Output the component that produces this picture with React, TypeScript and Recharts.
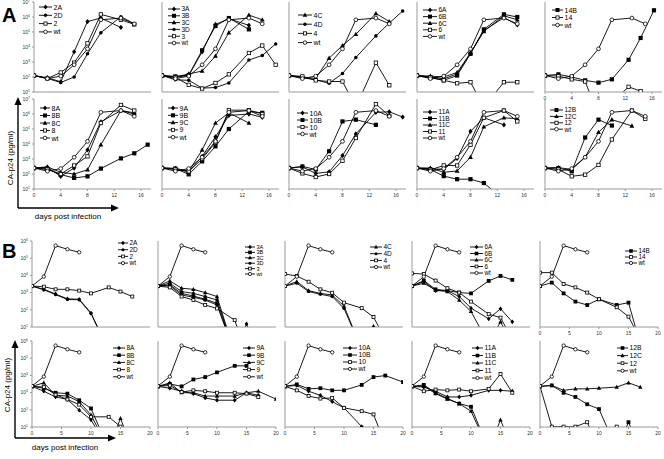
import React from 'react';
import { LineChart, Line, XAxis, YAxis } from 'recharts';

type Mk = 'diamond' | 'square' | 'triangle' | 'circle' | 'osquare' | 'ocircle';
interface Series { name: string; mk: Mk; days: number[]; vals: number[] }

// ---- sampling days
const dA = [0, 2, 4, 6, 8, 10, 13, 15];
const dA13 = [0, 2, 4, 6, 8, 10, 13];
const dA17 = [0, 2, 4, 6, 8, 10, 13, 15, 17];
const dA10 = [0, 2, 4, 6, 8, 10];
const d14B = [0, 2, 4, 6, 8, 10, 12.5, 14.3, 16.3];
const d14 = [0, 2, 4, 6, 8, 12.5, 14.3];
const dB = [0, 2, 4, 6, 8, 10, 13, 15, 17];
const dB13 = [0, 2, 4, 6, 8, 10, 13];
const dB15 = [0, 2, 4, 6, 8, 10, 13, 15];
const dB20 = [0, 2, 4, 6, 8, 10, 13, 15, 17, 20];
const dBwt = [0, 2, 4, 6, 8];

// ---- A, top row: CA-p24 (pg/ml)
const wtA1 = [125, 78, 115, 650, 7500, 6.5e5, 8.5e5, 3.5e5];
const a2A = [125, 90, 48, 4800, 5e5, 8.5e5, 2e5];
const a2D = [125, 80, 43, 100, 3500, 9e4, 1.05e6, 3.5e5];
const a2 = [125, 80, 200, 900, 1.75e4, 1.5e6, 6.5e5, 3.2e5];
const a3A = [125, 100, 125, 4800, 3.2e5, 7.5e5, 2.8e5];
const a3B = [125, 110, 135, 6000, 2.5e5, 8.5e5, 1.5e5];
const a3C = [125, 100, 160, 250, 2500, 9e4, 1.35e6, 6.5e5];
const a3D = [125, 65, 60, 18, 20, 40, 1350, 2750, 1.6e4];
const a3 = [125, 95, 30, 17, 40, 150, 4000, 1.25e4, 650];
const a4C = [125, 100, 80, 1800, 1.25e4, 7e4, 1.7e6, 5e5];
const a4D = [125, 90, 65, 38, 170, 2000, 5.5e4, 3.9e5, 2.5e6];
const a4 = [125, 110, 60, 50, 50, 1, 900, 28];
const a6A = [125, 100, 75, 160, 3800, 1.25e5, 9e5, 3e5];
const a6B = [125, 90, 60, 125, 3500, 1.5e5, 1.5e6, 1e6];
const a6C = [125, 115, 100, 200, 4000, 1.1e5, 1.2e6, 6.5e5];
const a6 = [125, 95, 60, 38, 45, 1, 45, 45];
const a14B = [125, 150, 100, 60, 42, 70, 1400, 4e4, 2.8e6];
const a14 = [125, 115, 70, 50, 0.3, 22, 11.5];

// ---- A, bottom row
const wtA2 = [250, 155, 230, 1300, 1.5e4, 1.3e6, 1.7e6, 7e5];
const a8A = [250, 280, 70, 250, 4000, 3e5, 1.7e6, 1e6];
const a8B = [250, 220, 90, 55, 70, 230, 1100, 2400, 9000];
const a8C = [250, 300, 130, 100, 190, 8900, 1.7e6, 1.2e6];
const a8 = [250, 200, 100, 370, 1500, 2.5e5, 4e6, 1.7e6];
const a9A = [250, 220, 140, 1500, 3e4, 8e5, 1e6, 6e5];
const a9B = [250, 230, 95, 700, 7000, 1e5, 1.5e6, 1.2e6];
const a9C = [250, 240, 150, 4000, 2.5e5, 1.2e6, 2.5e5];
const a9 = [250, 200, 150, 1000, 1.3e4, 1.8e6, 1.8e6, 1e6];
const a10A = [250, 300, 110, 140, 1700, 4.7e4, 1.3e6, 1.4e6, 6.3e5];
const a10B = [250, 320, 200, 3300, 3.2e5, 4.2e5, 1.9e5];
const a10 = [250, 110, 63, 100, 760, 2.5e4, 4.6e6, 7.4e5];
const a11A = [250, 230, 200, 1100, 7e4, 5.6e5, 1.9e5];
const a11B = [250, 200, 72, 45, 45, 25, 2];
const a11C = [250, 250, 130, 160, 1300, 1.4e5, 5.6e5, 4.8e5];
const a11 = [250, 190, 370, 370, 9000, 5.6e5, 1.7e6, 3.2e5];
const a12B = [250, 250, 150, 2.7e4, 4.2e5, 1.7e5];
const a12C = [250, 270, 200, 1300, 6e4, 4.2e5, 1.6e5];
const a12 = [250, 200, 70, 90, 400, 2e4, 1.7e6, 4.8e5];

// ---- B: CA-p24 (pg/ml)
const wtB = [2400, 8500, 5.4e5, 3.3e5, 2.2e5];
const b2A = [2400, 1550, 830, 430, 410, 65, 0.4];
const b2D = [2400, 1450, 760, 400, 380, 60, 0.4];
const b2 = [2400, 2200, 1550, 1550, 1300, 900, 2000, 1150, 590];
const b3A = [2400, 3500, 1150, 900, 590, 370, 0.3, 15, 0.3];
const b3B = [2400, 2800, 900, 630, 410, 240, 0.3];
const b3C = [2400, 4800, 1800, 1550, 1000, 590, 0.3];
const b3D = [2400, 2500, 720, 540, 370, 190, 0.3];
const b3 = [2400, 2000, 590, 370, 190, 120, 25, 0.3];
const b4C = [2400, 4400, 1300, 900, 720, 165, 0.5, 11];
const b4D = [2400, 3500, 1150, 800, 590, 120, 0.5];
const b4 = [1.2e4, 9300, 4300, 1550, 980, 260, 125, 38, 2];
const b6A = [2400, 4400, 1300, 1300, 590, 125, 30, 115, 20];
const b6B = [2400, 5000, 1550, 1300, 1000, 900, 4800, 9300, 5500];
const b6C = [2400, 3500, 1400, 1150, 370, 80, 1, 20, 1];
const b6 = [1.3e4, 1.2e4, 5000, 1800, 1000, 300, 56, 35, 2];
const b14B = [2400, 3800, 900, 300, 190, 410, 190, 260, 1];
const b14 = [1.45e4, 1.45e4, 3200, 2000, 1000, 410, 140, 40, 2];
const b8A = [2300, 1200, 560, 400, 95, 26, 0.5];
const b8B = [2300, 1800, 980, 870, 360, 120, 0.5];
const b8C = [2300, 3700, 700, 630, 300, 50, 0.5, 32, 0.5];
const b8 = [2300, 2100, 760, 400, 200, 39, 39, 10.5];
const b9A = [2300, 1800, 1200, 870, 490, 360, 360, 980, 690];
const b9B = [2300, 3200, 2300, 5800, 8000, 1.5e4, 3.6e4, 3.6e4];
const b9C = [2300, 3700, 980, 980, 630, 630, 630, 980, 1200, 420];
const b9 = [2300, 2600, 1070, 1350, 1200, 980, 980, 870, 560];
const b10A = [2300, 2600, 1200, 690, 300, 130, 10.5];
const b10B = [2300, 3000, 1650, 1800, 1350, 1350, 2800, 8000, 9800, 4100];
const b10 = [2300, 1350, 630, 450, 490, 130, 83, 54, 1];
const b11A = [2300, 2100, 1200, 560, 560, 690, 1350, 1350, 1200];
const b11B = [2300, 2800, 980, 450, 230, 150, 0.5];
const b11C = [2300, 2400, 870, 420, 230, 83, 0.5, 26, 0.5];
const b11 = [2300, 1200, 1500, 1350, 1500, 1200, 1650, 1.2e4, 980];
const b12B = [2300, 2600, 980, 560, 210, 110, 0.5, 19, 0.5];
const b12C = [2300, 2600, 1350, 1650, 1650, 1800, 2100, 3700, 2100];
const b12 = [2300, 10.5, 10.5, 10.5, 19, 0.5, 10.5];

const A_TICKS_X = [0, 4, 8, 12, 16];
const B_TICKS_X = [0, 5, 10, 15, 20];
const A_TICKS_Y = [10, 1e2, 1e3, 1e4, 1e5, 1e6, 1e7];
const B_TICKS_Y = [10, 1e2, 1e3, 1e4, 1e5, 1e6];

const s = (name: string, mk: Mk, days: number[], vals: number[]): Series => ({ name, mk, days, vals });

interface PanelDef {
  sec: 'A' | 'B';
  row: number;
  col: number;
  series: Series[];
  lg: { x: number; y: number; gap: number; len: number; fs: number };
}

const panels: PanelDef[] = [
  { sec: 'A', row: 0, col: 0, lg: { x: 39, y: 7, gap: 8.3, len: 13, fs: 7 },
    series: [s('2A', 'diamond', dA13, a2A), s('2D', 'circle', dA, a2D), s('2', 'osquare', dA, a2), s('wt', 'ocircle', dA, wtA1)] },
  { sec: 'A', row: 0, col: 1, lg: { x: 168, y: 9, gap: 6.8, len: 12, fs: 6.5 },
    series: [s('3A', 'diamond', dA13, a3A), s('3B', 'square', dA13, a3B), s('3C', 'triangle', dA, a3C),
      s('3D', 'circle', dA17, a3D), s('3', 'osquare', dA17, a3), s('wt', 'ocircle', dA, wtA1)] },
  { sec: 'A', row: 0, col: 2, lg: { x: 298, y: 15, gap: 9.2, len: 14, fs: 7 },
    series: [s('4C', 'triangle', dA, a4C), s('4D', 'circle', dA17, a4D), s('4', 'osquare', dA, a4), s('wt', 'ocircle', dA, wtA1)] },
  { sec: 'A', row: 0, col: 3, lg: { x: 423, y: 10, gap: 6.6, len: 14, fs: 6.5 },
    series: [s('6A', 'diamond', dA, a6A), s('6B', 'square', dA, a6B), s('6C', 'triangle', dA, a6C),
      s('6', 'osquare', dA, a6), s('wt', 'ocircle', dA, wtA1)] },
  { sec: 'A', row: 0, col: 4, lg: { x: 552, y: 10, gap: 7.5, len: 11, fs: 7 },
    series: [s('14B', 'square', d14B, a14B), s('14', 'osquare', d14, a14), s('wt', 'ocircle', dA, wtA1)] },
  { sec: 'A', row: 1, col: 0, lg: { x: 40, y: 108, gap: 7.5, len: 10, fs: 7 },
    series: [s('8A', 'diamond', dA, a8A), s('8B', 'square', dA17, a8B), s('8C', 'triangle', dA, a8C),
      s('8', 'osquare', dA, a8), s('wt', 'ocircle', dA, wtA2)] },
  { sec: 'A', row: 1, col: 1, lg: { x: 168, y: 108, gap: 7.3, len: 10, fs: 7 },
    series: [s('9A', 'diamond', dA, a9A), s('9B', 'square', dA, a9B), s('9C', 'triangle', dA13, a9C),
      s('9', 'osquare', dA, a9), s('wt', 'ocircle', dA, wtA2)] },
  { sec: 'A', row: 1, col: 2, lg: { x: 297, y: 113, gap: 7, len: 11, fs: 7 },
    series: [s('10A', 'diamond', dA17, a10A), s('10B', 'square', dA13, a10B), s('10', 'osquare', dA, a10), s('wt', 'ocircle', dA, wtA2)] },
  { sec: 'A', row: 1, col: 3, lg: { x: 423, y: 112, gap: 6.5, len: 14, fs: 6.5 },
    series: [s('11A', 'diamond', dA13, a11A), s('11B', 'square', dA13, a11B), s('11C', 'triangle', dA, a11C),
      s('11', 'osquare', dA, a11), s('wt', 'ocircle', dA, wtA2)] },
  { sec: 'A', row: 1, col: 4, lg: { x: 550, y: 110, gap: 6.4, len: 13, fs: 6.5 },
    series: [s('12B', 'square', dA10, a12B), s('12C', 'triangle', dA13, a12C), s('12', 'osquare', dA, a12), s('wt', 'ocircle', dA, wtA2)] },

  { sec: 'B', row: 0, col: 0, lg: { x: 118, y: 243, gap: 6.7, len: 10, fs: 6.5 },
    series: [s('2A', 'diamond', dB13, b2A), s('2D', 'circle', dB13, b2D), s('2', 'osquare', dB, b2), s('wt', 'ocircle', dBwt, wtB)] },
  { sec: 'B', row: 0, col: 1, lg: { x: 245, y: 247, gap: 5.4, len: 10, fs: 5.6 },
    series: [s('3A', 'diamond', dB, b3A), s('3B', 'square', dB13, b3B), s('3C', 'triangle', dB13, b3C),
      s('3D', 'circle', dB13, b3D), s('3', 'osquare', dB15, b3), s('wt', 'ocircle', dBwt, wtB)] },
  { sec: 'B', row: 0, col: 2, lg: { x: 370, y: 247, gap: 6.7, len: 12, fs: 6.5 },
    series: [s('4C', 'triangle', dB15, b4C), s('4D', 'circle', dB13, b4D), s('4', 'osquare', dB, b4), s('wt', 'ocircle', dBwt, wtB)] },
  { sec: 'B', row: 0, col: 3, lg: { x: 470, y: 247, gap: 6.5, len: 13, fs: 6.3 },
    series: [s('6A', 'diamond', dB, b6A), s('6B', 'square', dB, b6B), s('6C', 'triangle', dB, b6C),
      s('6', 'osquare', dB, b6), s('wt', 'ocircle', dBwt, wtB)] },
  { sec: 'B', row: 0, col: 4, lg: { x: 625, y: 251, gap: 6, len: 12, fs: 6.3 },
    series: [s('14B', 'square', dB, b14B), s('14', 'osquare', dB, b14), s('wt', 'ocircle', dBwt, wtB)] },
  { sec: 'B', row: 1, col: 0, lg: { x: 113, y: 348, gap: 7.2, len: 12, fs: 6.5 },
    series: [s('8A', 'diamond', dB13, b8A), s('8B', 'square', dB13, b8B), s('8C', 'triangle', dB, b8C),
      s('8', 'osquare', dB15, b8), s('wt', 'ocircle', dBwt, wtB)] },
  { sec: 'B', row: 1, col: 1, lg: { x: 243, y: 348, gap: 7.2, len: 12, fs: 6.5 },
    series: [s('9A', 'diamond', dB, b9A), s('9B', 'square', dB15, b9B), s('9C', 'triangle', dB20, b9C),
      s('9', 'osquare', dB, b9), s('wt', 'ocircle', dBwt, wtB)] },
  { sec: 'B', row: 1, col: 2, lg: { x: 343, y: 348, gap: 7, len: 14, fs: 6.8 },
    series: [s('10A', 'diamond', dB13, b10A), s('10B', 'square', dB20, b10B), s('10', 'osquare', dB, b10), s('wt', 'ocircle', dBwt, wtB)] },
  { sec: 'B', row: 1, col: 3, lg: { x: 472, y: 348, gap: 7.5, len: 11, fs: 6.8 },
    series: [s('11A', 'diamond', dB, b11A), s('11B', 'square', dB13, b11B), s('11C', 'triangle', dB, b11C),
      s('11', 'osquare', dB, b11), s('wt', 'ocircle', dBwt, wtB)] },
  { sec: 'B', row: 1, col: 4, lg: { x: 617, y: 348, gap: 7.6, len: 11, fs: 6.8 },
    series: [s('12B', 'square', dB, b12B), s('12C', 'triangle', dB, b12C), s('12', 'osquare', dB13, b12), s('wt', 'ocircle', dBwt, wtB)] },
];

const A_COLS = [34, 162, 289, 417, 545];
const B_COLS = [32, 158, 285, 412, 540];
const A_ROWS = [2, 99];
const B_ROWS = [241, 341];
const FONT = '"Liberation Sans", Arial, Helvetica, sans-serif';

function Mark({ mk, x, y, s }: { mk: Mk; x: number; y: number; s: number }) {
  switch (mk) {
    case 'diamond':
      return <path d={`M${x},${y - s * 1.25}L${x + s},${y}L${x},${y + s * 1.25}L${x - s},${y}Z`} fill="#000" />;
    case 'square':
      return <rect x={x - s} y={y - s} width={2 * s} height={2 * s} fill="#000" />;
    case 'triangle':
      return <path d={`M${x},${y - s * 1.25}L${x + s * 1.15},${y + s * 0.85}L${x - s * 1.15},${y + s * 0.85}Z`} fill="#000" />;
    case 'circle':
      return <circle cx={x} cy={y} r={s * 0.85} fill="#000" />;
    case 'osquare':
      return <rect x={x - s + 0.4} y={y - s + 0.4} width={2 * s - 0.8} height={2 * s - 0.8} fill="#fff" stroke="#000" strokeWidth={0.8} />;
    default:
      return <circle cx={x} cy={y} r={s * 0.9} fill="#fff" stroke="#000" strokeWidth={0.8} />;
  }
}

const YTick = (props: any) => {
  const { x, y, payload } = props;
  const e = Math.round(Math.log10(payload.value));
  return (
    <text x={x} y={y + 1.8} fontSize={5} textAnchor="end" fill="#333" fontFamily={FONT}>
      10<tspan fontSize={3.5} dy={-2}>{e}</tspan>
    </text>
  );
};

function Panel({ p }: { p: PanelDef }) {
  const isA = p.sec === 'A';
  const x0 = isA ? A_COLS[p.col] : B_COLS[p.col];
  const y0 = isA ? A_ROWS[p.row] : B_ROWS[p.row];
  const w = isA ? 117 : 118;
  const h = isA ? 90 : 86;
  const L = 16, R = 3, T = 4, BM = 9;
  const xLabels = p.row === 1 || p.col === 4;
  const ms = isA ? 2.1 : 1.9;
  return (
    <div style={{ position: 'absolute', left: x0 - L, top: y0 - T }}>
      <LineChart width={w + L + R} height={h + T + BM} margin={{ top: T, right: R, left: 0, bottom: 0 }}>
        <XAxis type="number" dataKey="x" domain={[0, isA ? 17.5 : 20]} ticks={isA ? A_TICKS_X : B_TICKS_X}
          allowDataOverflow height={BM} stroke="#999" tickSize={2} interval={0}
          tick={xLabels ? { fontSize: 5, fill: '#333', fontFamily: FONT } : false} />
        <YAxis type="number" dataKey="y" scale="log" domain={isA ? [10, 1e7] : [10, 1e6]}
          ticks={isA ? A_TICKS_Y : B_TICKS_Y} allowDataOverflow width={L} stroke="#999" tickSize={2} interval={0}
          tick={p.col === 0 ? <YTick /> : false} />
        {p.series.map((sr) => (
          <Line key={sr.name} data={sr.days.map((d, i) => ({ x: d, y: sr.vals[i] }))} dataKey="y" type="linear"
            stroke="#000" strokeWidth={0.9} isAnimationActive={false} activeDot={false}
            dot={(dp: any) => {
              const { cx, cy, payload, index } = dp;
              if (cx == null || cy == null || payload.y < 8) return <g key={index} />;
              return <g key={index}><Mark mk={sr.mk} x={cx} y={cy} s={ms} /></g>;
            }} />
        ))}
      </LineChart>
    </div>
  );
}

function Legends() {
  return (
    <>
      {panels.map((p) => (
        <g key={p.sec + p.row + p.col}>
          {p.series.map((sr, i) => {
            const cy = p.lg.y + i * p.lg.gap;
            const x1 = p.lg.x, x2 = p.lg.x + p.lg.len;
            return (
              <g key={sr.name}>
                <line x1={x1} y1={cy} x2={x2} y2={cy} stroke="#000" strokeWidth={0.9} />
                <Mark mk={sr.mk} x={(x1 + x2) / 2} y={cy} s={p.sec === 'A' ? 2 : 1.8} />
                <text x={x2 + 1.5} y={cy + p.lg.fs * 0.36} fontSize={p.lg.fs} fontFamily={FONT} fill="#000">{sr.name}</text>
              </g>
            );
          })}
        </g>
      ))}
    </>
  );
}

function Arrows({ vx, top, corner, right, ylab, xlabY }: { vx: number; top: number; corner: number; right: number; ylab: number; xlabY: number }) {
  return (
    <g>
      <line x1={vx} y1={top + 7} x2={vx} y2={corner} stroke="#000" strokeWidth={1.4} />
      <path d={`M${vx},${top}L${vx + 3.5},${top + 8}L${vx - 3.5},${top + 8}Z`} fill="#000" />
      <line x1={vx} y1={corner} x2={right - 7} y2={corner} stroke="#000" strokeWidth={1.4} />
      <path d={`M${right},${corner}L${right - 8},${corner - 3.5}L${right - 8},${corner + 3.5}Z`} fill="#000" />
      <text transform={`translate(${vx - 5},${ylab}) rotate(-90)`} textAnchor="middle" fontSize={8} fontFamily={FONT}>CA-p24 (pg/ml)</text>
      <text x={vx + 50} y={xlabY} textAnchor="middle" fontSize={8} fontFamily={FONT}>days post infection</text>
    </g>
  );
}

export default function App() {
  return (
    <div style={{ position: 'relative', width: 664, height: 459, background: '#fff', overflow: 'hidden', fontFamily: FONT }}>
      <style>{'body{margin:0}'}</style>
      {panels.map((p) => <Panel key={p.sec + p.row + p.col} p={p} />)}
      <svg width={664} height={459} style={{ position: 'absolute', left: 0, top: 0, pointerEvents: 'none' }}>
        <text x={2} y={22} fontSize={20} fontWeight="bold" fontFamily={FONT}>A</text>
        <text x={2} y={258} fontSize={20} fontWeight="bold" fontFamily={FONT}>B</text>
        <Legends />
        <Arrows vx={18} top={97} corner={208} right={119} ylab={158} xlabY={219} />
        <Arrows vx={15} top={340} corner={438} right={116} ylab={385} xlabY={450} />
      </svg>
    </div>
  );
}
